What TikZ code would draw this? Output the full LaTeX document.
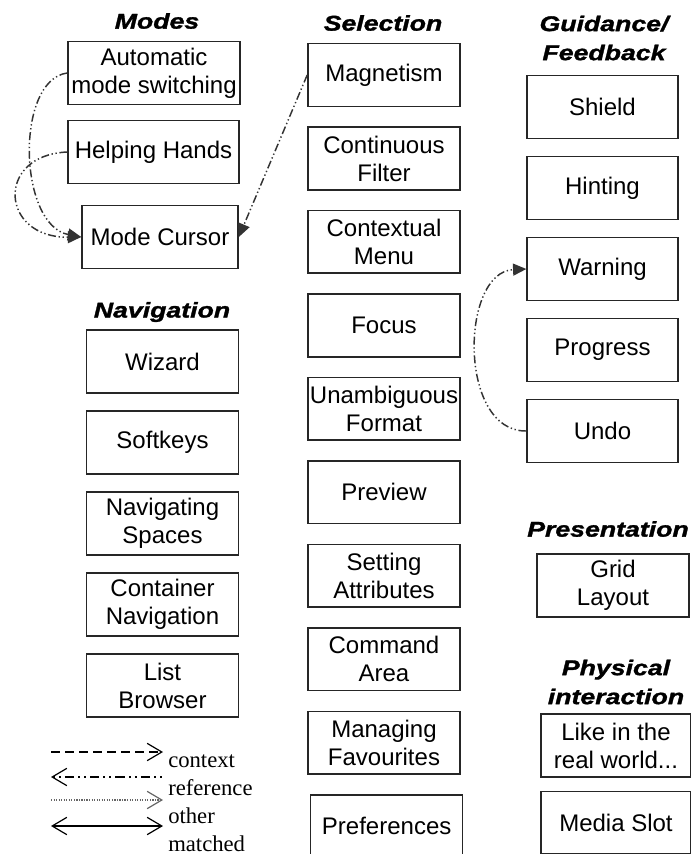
\documentclass[tikz,border=0pt]{standalone}
\usepackage{fontspec}
\setmainfont{Liberation Sans}
\newfontfamily\headfont[FakeStretch=1.25, FakeBold=1.5]{Liberation Sans}
\newfontfamily\legendfont{Liberation Serif}
\usetikzlibrary{arrows.meta}

\begin{document}
\begin{tikzpicture}[x=0.75pt, y=-0.75pt, node distance=60.75pt,
    box/.style={rectangle, draw=black!85, line width=1.2pt, minimum width=114pt,
      minimum height=47pt, inner sep=1pt, align=center, font=\fontsize{18}{21}\selectfont},
    sel/.style={box, node distance=62.6pt},
    head/.style={align=center, inner sep=0pt,
      font=\headfont\bfseries\itshape\fontsize{16}{21.75}\selectfont},
    ref/.style={draw=black!80, line width=1.1pt,
      dash pattern=on 6pt off 2pt on 1pt off 2pt on 1pt off 2pt,
      -{Triangle[length=10pt,width=9pt]}},
    leg/.style={line width=0.9pt, >={Straight Barb[length=11pt,width=13pt]}},
    legtext/.style={anchor=base west, inner sep=0pt, font=\legendfont\fontsize{17}{20}\selectfont}]

    \useasboundingbox (0,0) rectangle (691,854);

    \node[head] (modes) at (157,21) {Modes};
    \node[box, minimum width=129pt] (auto) at (154,73) {Automatic\\mode switching};
    \node[box, minimum width=128pt] (helping) at (153.5,152) {Helping Hands};
    \node[box, minimum width=117pt] (cursor) at (160,237) {Mode Cursor};

    \node[head] (navigation) at (162,312) {Navigation};
    \node[box] (wizard) at (162.5,361.5) {Wizard};
    \node[box] (softkeys) [below of=wizard] {Softkeys};
    \node[box] (navspaces) [below of=softkeys] {Navigating\\Spaces};
    \node[box] (container) [below of=navspaces] {Container\\Navigation};
    \node[box] (listbrowser) [below of=container] {List\\Browser};

    \node[head] (selection) at (383,23) {Selection};
    \node[sel] (magnetism) at (384,75) {Magnetism};
    \node[sel] (filter) [below of=magnetism] {Continuous\\Filter};
    \node[sel] (ctxmenu) [below of=filter] {Contextual\\Menu};
    \node[sel] (focus) [below of=ctxmenu] {Focus};
    \node[sel] (unambig) [below of=focus] {Unambiguous\\Format};
    \node[sel] (preview) [below of=unambig] {Preview};
    \node[sel] (setattr) [below of=preview] {Setting\\Attributes};
    \node[sel] (cmdarea) [below of=setattr] {Command\\Area};
    \node[sel] (favourites) [below of=cmdarea] {Managing\\Favourites};
    \node[sel] (prefs) [below of=favourites, xshift=2pt] {Preferences};

    \node[head] (guidance) at (604,38) {Guidance/\\Feedback};
    \node[box, minimum width=113pt] (shield) at (602.5,107) {Shield};
    \node[box, minimum width=113pt] (hinting) [below of=shield] {Hinting};
    \node[box, minimum width=113pt] (warning) [below of=hinting] {Warning};
    \node[box, minimum width=113pt] (progress) [below of=warning] {Progress};
    \node[box, minimum width=113pt] (undo) [below of=progress] {Undo};

    \node[head] (presentation) at (608,529) {Presentation};
    \node[box] (grid) at (613,585.5) {Grid\\Layout};

    \node[head] (physical) at (616,682) {Physical\\interaction};
    \node[box, minimum width=112.5pt] (realworld) at (616,745.5) {Like in the\\real world...};
    \node[box, minimum width=112.5pt, node distance=58pt] (mediaslot) [below of=realworld] {Media Slot};

    \draw[ref] (auto.west) .. controls (15,80) and (18,225) .. (cursor.west);
    \draw[ref] (helping.west) .. controls (-5,155) and (0,238) .. (cursor.west);
    \draw[ref] (magnetism.west) -- (cursor.east);
    \draw[ref] (undo.west) .. controls (458,432) and (460,272) .. (warning.west);

    \coordinate (ctxA) at (51,752);
    \coordinate (ctxB) at (163,752);
    \coordinate (refA) at (51,777);
    \coordinate (refB) at (163,777);
    \coordinate (othA) at (51,800);
    \coordinate (othB) at (163,800);
    \coordinate (matA) at (51,826);
    \coordinate (matB) at (163,826);
    \draw[leg, ->, dash pattern=on 7pt off 3.5pt] (ctxA) -- (ctxB);
    \draw[leg, <-, dash pattern=on 1.5pt off 3pt on 1.5pt off 3pt on 7pt off 3pt] (refA) -- (refB);
    \draw[leg, ->, black!60, densely dotted] (othA) -- (othB);
    \draw[leg, <->] (matA) -- (matB);
    \node[legtext] (ctxlabel) at (168,767) {context};
    \node[legtext] (reflabel) at (168,795) {reference};
    \node[legtext] (othlabel) at (168,823) {other};
    \node[legtext] (matlabel) at (168,851) {matched};
\end{tikzpicture}
\end{document}
